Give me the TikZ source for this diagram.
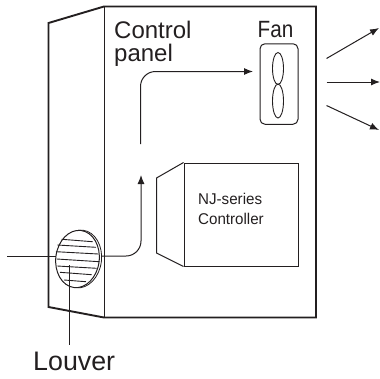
\documentclass[tikz,border=0pt]{standalone}
\usepackage{fontspec}
\setmainfont{Liberation Sans}
\usetikzlibrary{arrows.meta,shapes.geometric}
\definecolor{ink}{HTML}{231F20}
\tikzset{
  heavy/.style={draw=ink,line width=1.9pt,line join=miter},
  thinline/.style={draw=ink,line width=1pt},
  slat/.style={draw=ink,line width=0.9pt},
  air/.style={draw=ink,line width=1pt,-{Latex[length=9pt,width=7pt]}},
  flow/.style={draw=ink,line width=1pt},
  blade/.style={draw=ink,line width=0.9pt,ellipse,inner sep=0pt,minimum width=11pt,minimum height=33pt},
  lab/.style={inner sep=0pt,anchor=base west,text=ink,align=left},
  big/.style={font=\fontsize{24}{26}\selectfont},
  small/.style={font=\fontsize{15.6}{19}\selectfont}
}
\begin{document}
\begin{tikzpicture}[x=1pt,y=-1pt]
\useasboundingbox (0,0) rectangle (380,378);
% cabinet
\draw[heavy] (104,6.5) -- (48.5,23) -- (48.5,307) -- (104,317.5) -- (316,317.5) -- (316,6.5) -- cycle;
\draw[thinline] (104,6.5) -- (104,317.5);
% controller
\node[draw=ink,line width=1pt,minimum width=114pt,minimum height=103pt,inner sep=0pt] (ctrl) at (241,214.5) {};
\coordinate (cA) at (156.5,178);
\coordinate (cB) at (156.5,253);
\draw[thinline] (ctrl.north west) -- (cA) -- (cB) -- (ctrl.south west);
\node[lab,small] (ct1) at (198,204.5) {\scalebox{0.97}[1]{NJ-series}};
\node[lab,small] (ct2) at (198,224) {\scalebox{0.97}[1]{Controller}};
% louver
\node[draw=ink,line width=1pt,ellipse,inner sep=0pt,minimum width=43.5pt,minimum height=57.5pt,rotate=-7] (louver) at (77.5,259) {};
\begin{scope}
\clip (78,225) rectangle (106,292);
\draw[draw=ink,line width=0.8pt,rotate around={-7:(79.5,259)}] (79.5,259) ellipse [x radius=22,y radius=29];
\end{scope}
\foreach \a/\b/\c/\d in {61.7/239.3/92.7/241.7,57.3/245/96/247.3,56/251.7/98.3/254,56.7/259/99.3/261.7,57.3/266/96.7/268.3,60/272.3/91.7/274.7,64/280/86/281.7}
  \draw[slat] (\a,\b) -- (\c,\d);
% louver leader
\coordinate (lvA) at (69,265);
\node[lab,font=\fontsize{26.8}{28}\selectfont] (lv) at (33,370) {Louver};
\coordinate (lvB) at (69,345);
\draw[thinline] (lvA) -- (lvB);
% air flow
\coordinate (in0) at (7,256);
\draw[flow] (in0) -- (55.5,256);
\coordinate (m0) at (102,256);
\coordinate (m1) at (141,256);
\coordinate (m2) at (141,175);
\draw[air,rounded corners=15pt] (m0) -- (m1) -- (m2);
\coordinate (u0) at (140.5,144);
\coordinate (u1) at (140.5,71.5);
\node[draw=ink,line width=1pt,rounded corners=5pt,minimum width=38pt,minimum height=80.5pt,inner sep=0pt] (fan) at (279,84) {};
\coordinate (u2) at (253,71.5);
\draw[air,rounded corners=15pt] (u0) -- (u1) -- (u2);
\node[blade,minimum height=32pt] (b1) at (278,68.5) {};
\node[blade,minimum height=34pt] (b2) at (278,101) {};
% labels
\node[lab,big] (cp1) at (114,38) {Control};
\node[lab,big] (cp2) at (114,61.5) {panel};
\node[lab,font=\fontsize{23.5}{26}\selectfont] (fl) at (257.5,37.5) {\scalebox{0.88}[1]{Fan}};
% exhaust
\coordinate (e1) at (326.5,58.5);
\coordinate (e2) at (326.5,82);
\coordinate (e3) at (326.5,105.5);
\coordinate (f1) at (379,28);
\coordinate (f2) at (380,82);
\coordinate (f3) at (379,130);
\draw[air] (e1) -- (f1);
\draw[air] (e2) -- (f2);
\draw[air] (e3) -- (f3);
\end{tikzpicture}
\end{document}
